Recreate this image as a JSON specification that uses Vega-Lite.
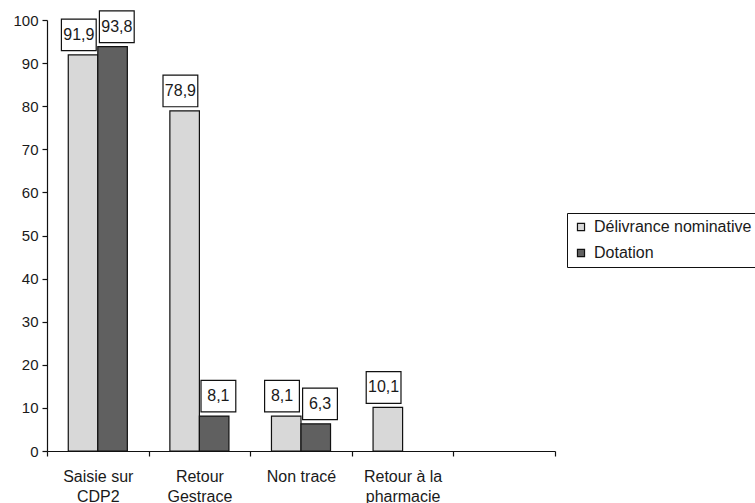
{
  "$schema": "https://vega.github.io/schema/vega-lite/v6.json",
  "width": 508,
  "height": 431,
  "autosize": "none",
  "padding": {"left": 47, "top": 20, "right": 200, "bottom": 52},
  "background": "white",
  "config": {
    "locale": {"number": {"decimal": ",", "thousands": " ", "grouping": [3], "currency": ["", " €"]}},
    "font": "Liberation Sans",
    "view": {"stroke": null},
    "axis": {"domainColor": "#111", "tickColor": "#111", "labelColor": "#1a1a1a", "grid": false, "title": null, "tickSize": 5, "domainWidth": 1.2, "tickWidth": 1.2}
  },
  "data": {
    "values": [
      {"cat": "Saisie sur|CDP2", "serie": "Délivrance nominative", "value": 91.9},
      {"cat": "Saisie sur|CDP2", "serie": "Dotation", "value": 93.8},
      {"cat": "Retour|Gestrace", "serie": "Délivrance nominative", "value": 78.9},
      {"cat": "Retour|Gestrace", "serie": "Dotation", "value": 8.1},
      {"cat": "Non tracé", "serie": "Délivrance nominative", "value": 8.1},
      {"cat": "Non tracé", "serie": "Dotation", "value": 6.3},
      {"cat": "Retour à la|pharmacie", "serie": "Délivrance nominative", "value": 10.1}
    ]
  },
  "encoding": {
    "x": {
      "field": "cat",
      "type": "nominal",
      "sort": null,
      "scale": {"domain": ["Saisie sur|CDP2", "Retour|Gestrace", "Non tracé", "Retour à la|pharmacie", " "], "paddingInner": 0, "paddingOuter": 0},
      "axis": {"labelExpr": "isValid(datum.value) ? split(datum.value, '|') : ''", "labelAngle": 0, "labelFontSize": 16, "labelLineHeight": 20, "labelPadding": 12, "tickBand": "extent", "labelBaseline": "top"}
    },
    "y": {
      "field": "value",
      "type": "quantitative",
      "scale": {"domain": [0, 100], "nice": false},
      "axis": {"values": [0, 10, 20, 30, 40, 50, 60, 70, 80, 90, 100], "labelFontSize": 15, "labelPadding": 4}
    }
  },
  "resolve": {"scale": {"xOffset": "independent"}},
  "layer": [
    {
      "mark": {"type": "bar", "stroke": "#111", "strokeWidth": 1.2},
      "encoding": {
        "xOffset": {
          "field": "serie",
          "type": "nominal",
          "scale": {"domain": ["Délivrance nominative", "Dotation"], "paddingInner": 0, "paddingOuter": 0.72}
        },
        "fill": {
          "field": "serie",
          "type": "nominal",
          "scale": {"domain": ["Délivrance nominative", "Dotation"], "range": ["#d8d8d8", "#606060"]},
          "legend": {
            "title": null,
            "orient": "none",
            "legendX": 520,
            "legendY": 193,
            "symbolType": "square",
            "symbolSize": 50,
            "symbolStrokeColor": "#111",
            "symbolStrokeWidth": 1.2,
            "labelFontSize": 16,
            "labelColor": "#1a1a1a",
            "labelLimit": 300,
            "strokeColor": "#111",
            "fillColor": "white",
            "padding": 6,
            "rowPadding": 10,
            "symbolOffset": 0,
            "labelOffset": 5
          }
        }
      }
    },
    {
      "encoding": {
        "xOffset": {
          "field": "serie",
          "type": "nominal",
          "scale": {"domain": ["Délivrance nominative", "Dotation"], "range": [31.8, 69.8], "padding": 0}
        }
      },
      "layer": [
        {
          "mark": {"type": "point", "shape": "M-1.1,-1H1.1V1H-1.1Z", "size": 1000, "filled": true, "fill": "white", "stroke": "#111", "strokeWidth": 1.2, "opacity": 1, "yOffset": -20}
        },
        {
          "mark": {"type": "text", "fontSize": 16, "yOffset": -20, "baseline": "middle", "align": "center", "color": "#1a1a1a"},
          "encoding": {"text": {"field": "value", "type": "quantitative", "format": ".1f"}}
        }
      ]
    }
  ]
}
